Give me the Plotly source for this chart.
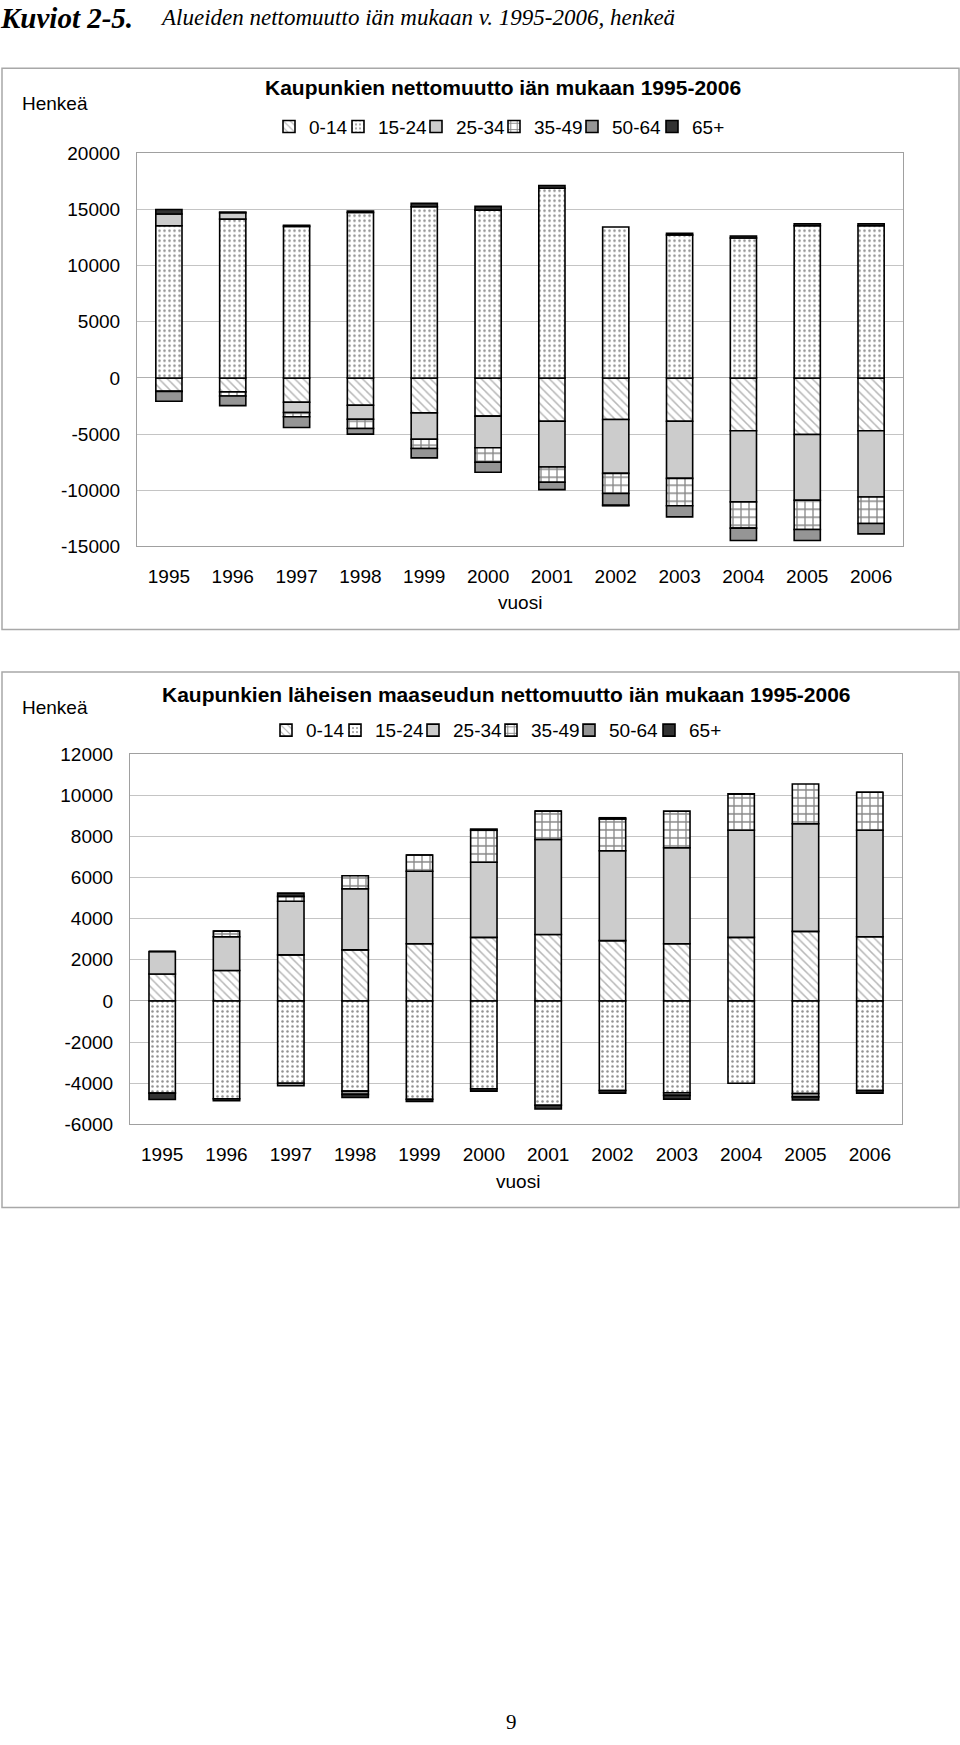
import plotly.graph_objects as go

W, H = 960, 1745

years = ["1995", "1996", "1997", "1998", "1999", "2000",
         "2001", "2002", "2003", "2004", "2005", "2006"]
age_groups = ["0-14", "15-24", "25-34", "35-49", "50-64", "65+"]

# Chart 1: Kaupunkien nettomuutto (henkeä)
city_0_14 = [-1180, -1240, -2160, -2430, -3110, -3400, -3850, -3700, -3850, -4700, -5030, -4700]
city_15_24 = [13550, 14140, 13490, 14730, 15240, 14940, 16890, 13430, 12720, 12460, 13550, 13550]
city_25_34 = [1040, 560, -920, -1240, -2340, -2810, -4080, -4790, -5090, -6330, -5860, -5890]
city_35_49 = [-30, -360, -380, -830, -830, -1300, -1360, -1800, -2430, -2340, -2600, -2370]
city_50_64 = [-860, -860, -950, -500, -830, -890, -650, -1040, -1000, -1100, -980, -920]
city_65 = [400, 60, 100, 120, 300, 330, 240, -50, 150, 180, 180, 180]

# Chart 2: Kaupunkien läheisen maaseudun nettomuutto (henkeä)
rural_0_14 = [1310, 1480, 2240, 2480, 2780, 3090, 3230, 2930, 2780, 3090, 3380, 3120]
rural_15_24 = [-4480, -4750, -4000, -4380, -4780, -4270, -5070, -4350, -4460, -4000, -4500, -4350]
rural_25_34 = [1090, 1640, 2600, 2970, 3520, 3650, 4610, 4370, 4660, 5200, 5230, 5170]
rural_35_49 = [0, 270, 240, 630, 790, 1550, 1380, 1540, 1780, 1770, 1930, 1850]
rural_50_64 = [0, 0, -120, -160, 0, 60, 0, 60, -130, 0, -160, 0]
rural_65 = [-310, -100, 160, -150, -100, -110, -180, -130, -180, 0, -150, -130]

# axis ticks
city_ticks = [-15000, -10000, -5000, 0, 5000, 10000, 15000, 20000]
city_tick_labels = ["-15000", "-10000", "-5000", "0", "5000", "10000", "15000", "20000"]
rural_ticks = [-6000, -4000, -2000, 0, 2000, 4000, 6000, 8000, 10000, 12000]
rural_tick_labels = ["-6000", "-4000", "-2000", "0", "2000", "4000", "6000", "8000", "10000", "12000"]

city_series = [city_0_14, city_15_24, city_25_34, city_35_49, city_50_64, city_65]
rural_series = [rural_0_14, rural_15_24, rural_25_34, rural_35_49, rural_50_64, rural_65]

styles = [
    dict(color="white", pattern=dict(shape="\\", fgcolor="#6e6e6e", bgcolor="white", size=6, solidity=0.25)),
    dict(color="white", pattern=dict(shape=".", fgcolor="#222222", bgcolor="white", size=5, solidity=0.2)),
    dict(color="#cccccc"),
    dict(color="white", pattern=dict(shape="+", fgcolor="#111111", bgcolor="white", size=8, solidity=0.3)),
    dict(color="#959595"),
    dict(color="#333333"),
]
legend_widths = [24, 33, 33, 33, 35, 0]

FONT = "Liberation Sans, Arial, sans-serif"
SERIF = "Liberation Serif, Times New Roman, serif"

fig = go.Figure()

def add_series(series, xa, ya, leg):
    for name, vals, st, lw in zip(age_groups, series, styles, legend_widths):
        marker = dict(color=st["color"], line=dict(color="black", width=1.6))
        if "pattern" in st:
            marker["pattern"] = st["pattern"]
        kw = {}
        if lw:
            kw["legendwidth"] = lw
        fig.add_trace(go.Bar(x=years, y=vals, name=name, marker=marker,
                             xaxis=xa, yaxis=ya, legend=leg, **kw))

add_series(city_series, "x", "y", "legend")
add_series(rural_series, "x2", "y2", "legend2")

def px_x(p):
    return p / W

def px_y(p):
    return 1 - p / H

# plot areas (pixels)
c1 = dict(l=137, r=903, t=145, b=543)
c2 = dict(l=130, r=902, t=753, b=1128)

axis_common = dict(
    showline=True, mirror=True, linecolor="#a0a0a0", linewidth=1.2,
    tickfont=dict(family=FONT, size=19, color="black"),
    ticks="", fixedrange=True,
)

fig.update_layout(
    width=W, height=H,
    margin=dict(l=0, r=0, t=0, b=0),
    paper_bgcolor="white", plot_bgcolor="white",
    barmode="relative", bargap=0.59,
    showlegend=True,
    xaxis=dict(domain=[px_x(c1["l"]), px_x(c1["r"])], anchor="y", type="category",
               showgrid=False, ticklabelstandoff=13, **axis_common),
    yaxis=dict(domain=[px_y(c1["b"]), px_y(c1["t"])], anchor="x", range=[-15000, 20000],
               tickvals=city_ticks, ticktext=city_tick_labels,
               showgrid=True, gridcolor="#c4c4c4", gridwidth=1,
               zeroline=True, zerolinecolor="#b0b0b0", zerolinewidth=1,
               ticklabelstandoff=12, **axis_common),
    xaxis2=dict(domain=[px_x(c2["l"]), px_x(c2["r"])], anchor="y2", type="category",
                showgrid=False, ticklabelstandoff=13, **axis_common),
    yaxis2=dict(domain=[px_y(c2["b"]), px_y(c2["t"])], anchor="x2", range=[-6000, 12000],
                tickvals=rural_ticks, ticktext=rural_tick_labels,
                showgrid=True, gridcolor="#c4c4c4", gridwidth=1,
                zeroline=True, zerolinecolor="#b0b0b0", zerolinewidth=1,
                ticklabelstandoff=12, **axis_common),
    legend=dict(orientation="h", x=px_x(269), xanchor="left", y=px_y(118), yanchor="middle",
                font=dict(family=FONT, size=19, color="black"), bgcolor="rgba(0,0,0,0)",
                itemwidth=30, tracegroupgap=0),
    legend2=dict(orientation="h", x=px_x(266), xanchor="left", y=px_y(729), yanchor="middle",
                 font=dict(family=FONT, size=19, color="black"), bgcolor="rgba(0,0,0,0)",
                 itemwidth=30, tracegroupgap=0),
)

# outer chart boxes
for (y0, y1) in [(59, 627), (670, 1212)]:
    fig.add_shape(type="rect", xref="paper", yref="paper",
                  x0=px_x(2), x1=px_x(959), y0=px_y(y1), y1=px_y(y0),
                  line=dict(color="#a8a8a8", width=1.5), fillcolor="rgba(0,0,0,0)", layer="below")

def ann(text, x, y, size, family=FONT, xanchor="left", yanchor="middle", color="black"):
    fig.add_annotation(text=text, x=px_x(x), y=px_y(y), xref="paper", yref="paper",
                       showarrow=False, xanchor=xanchor, yanchor=yanchor,
                       font=dict(family=family, size=size, color=color))

ann("<b><i>Kuviot 2-5.</i></b>", -2, 8, 29, SERIF)
ann("<i>Alueiden nettomuutto iän mukaan v. 1995-2006, henkeä</i>", 158, 8, 23, SERIF)

ann("<b>Kaupunkien nettomuutto iän mukaan 1995-2006</b>", 503, 78, 21, xanchor="center")
ann("Henkeä", 20, 95, 19)
ann("vuosi", 520, 600, 19, xanchor="center")

ann("<b>Kaupunkien läheisen maaseudun nettomuutto iän mukaan 1995-2006</b>", 507, 693, 21, xanchor="center")
ann("Henkeä", 20, 706, 19)
ann("vuosi", 518, 1186, 19, xanchor="center")

ann("9", 511, 1733, 21, SERIF, xanchor="center")

fig.write_html("out.html", config={"displayModeBar": False},
               post_script="document.body.style.margin='0';document.body.style.overflow='hidden';")
